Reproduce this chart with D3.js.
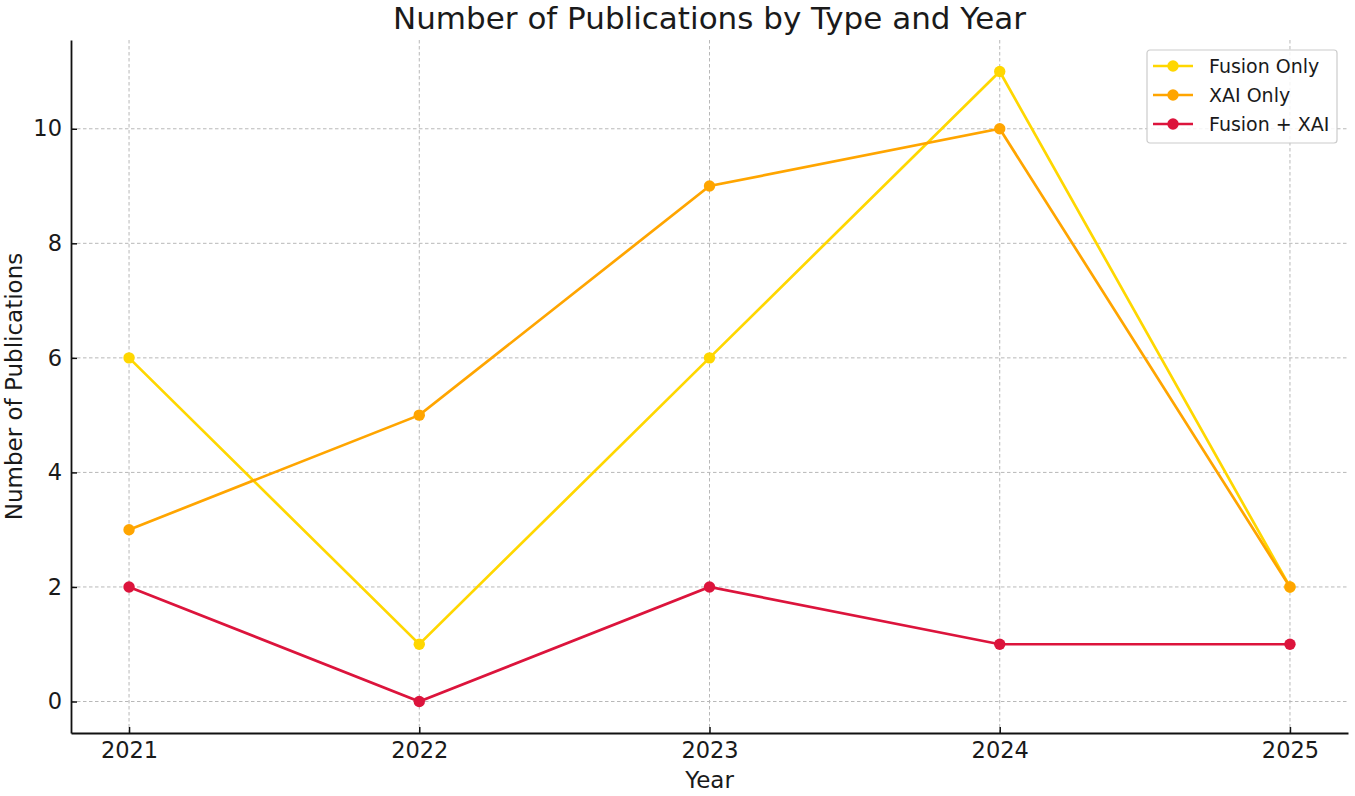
<!DOCTYPE html>
<html><head><meta charset="utf-8">
<script src="https://cdn.jsdelivr.net/npm/d3@7"></script>
<style>body{margin:0;background:#fff}svg{display:block}text{font-family:"DejaVu Sans",sans-serif;fill:#1a1a1a}</style>
</head><body>
<script>
const years = [2021, 2022, 2023, 2024, 2025];
const fusionOnly = [6, 1, 6, 11, 2];
const xaiOnly = [3, 5, 9, 10, 2];
const fusionXai = [2, 0, 2, 1, 1];
const seriesNames = ["Fusion Only", "XAI Only", "Fusion + XAI"];
const seriesColors = ["#FFD700", "#FFA500", "#DC143C"];
const yTicks = [0, 2, 4, 6, 8, 10];
const titleText = "Number of Publications by Type and Year";
const xLabel = "Year", yLabel = "Number of Publications";

const W = 1355, H = 796;
const m = {left: 71, right: 7, top: 40, bottom: 63};
const svg = d3.select("body").append("svg").attr("width", W).attr("height", H);
const x = d3.scaleLinear().domain([2020.8, 2025.2]).range([m.left, W - m.right]);
const y = d3.scaleLinear().domain([-0.55, 11.55]).range([H - m.bottom, m.top]);

// grid
const g = svg.append("g");
g.selectAll(".gx").data(years).join("line")
  .attr("x1", d => x(d)).attr("x2", d => x(d)).attr("y1", m.top).attr("y2", H - m.bottom)
  .attr("stroke", "#b8b8b8").attr("stroke-width", 1).attr("stroke-dasharray", "3.5,2.5");
g.selectAll(".gy").data(yTicks).join("line")
  .attr("y1", d => y(d)).attr("y2", d => y(d)).attr("x1", m.left).attr("x2", W - m.right)
  .attr("stroke", "#b8b8b8").attr("stroke-width", 1).attr("stroke-dasharray", "3.5,2.5");

// axes
const xAxis = svg.append("g").attr("transform", `translate(0,${H - m.bottom})`)
  .call(d3.axisBottom(x).tickValues(years).tickFormat(d3.format("d")).tickSizeInner(-6).tickSizeOuter(0).tickPadding(9));
const yAxis = svg.append("g").attr("transform", `translate(${m.left},0)`)
  .call(d3.axisLeft(y).tickValues(yTicks).tickSizeInner(-6).tickSizeOuter(0).tickPadding(9));
[xAxis, yAxis].forEach(a => {
  a.select(".domain").attr("stroke", "#111").attr("stroke-width", 1.8);
  a.selectAll(".tick line").attr("stroke", "#111").attr("stroke-width", 1.5);
  a.selectAll(".tick text").style("font-family", "DejaVu Sans").style("font-size", "22.5px").attr("fill", "#1a1a1a");
});
xAxis.selectAll(".tick text").attr("dy", "0.72em");

// lines
const all = [fusionOnly, xaiOnly, fusionXai];
const line = d3.line().x((d, i) => x(years[i])).y(d => y(d));
all.forEach((vals, si) => {
  svg.append("path").datum(vals).attr("d", line).attr("fill", "none")
    .attr("stroke", seriesColors[si]).attr("stroke-width", 2.7);
  svg.append("g").selectAll("circle").data(vals).join("circle")
    .attr("cx", (d, i) => x(years[i])).attr("cy", d => y(d)).attr("r", 5.7)
    .attr("fill", seriesColors[si]);
});

// title and labels
svg.append("text").attr("x", (m.left + W - m.right) / 2).attr("y", 29).attr("text-anchor", "middle")
  .style("font-size", "31px").text(titleText);
svg.append("text").attr("x", (m.left + W - m.right) / 2).attr("y", 788).attr("text-anchor", "middle")
  .style("font-size", "23px").text(xLabel);
svg.append("text").attr("transform", `translate(22,${(m.top + H - m.bottom) / 2}) rotate(-90)`)
  .attr("text-anchor", "middle").style("font-size", "23px").text(yLabel);

// legend
const lg = svg.append("g").attr("transform", "translate(1147,50)");
lg.append("rect").attr("width", 190).attr("height", 93).attr("rx", 3)
  .attr("fill", "#fff").attr("fill-opacity", 0.85).attr("stroke", "#cccccc").attr("stroke-width", 1.2);
seriesNames.forEach((n, i) => {
  const yy = 16 + i * 29;
  lg.append("line").attr("x1", 6).attr("x2", 46).attr("y1", yy).attr("y2", yy)
    .attr("stroke", seriesColors[i]).attr("stroke-width", 2.7);
  lg.append("circle").attr("cx", 26).attr("cy", yy).attr("r", 5.7).attr("fill", seriesColors[i]);
  lg.append("text").attr("x", 62).attr("y", yy).attr("dy", "0.35em").style("font-size", "19px").text(n);
});
</script>
</body></html>
